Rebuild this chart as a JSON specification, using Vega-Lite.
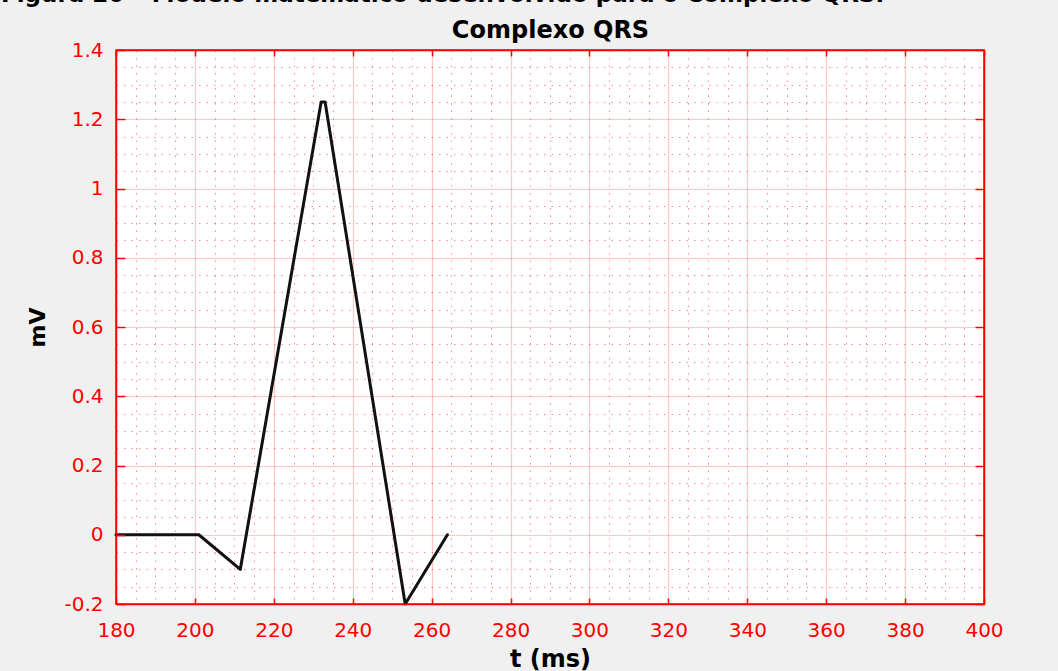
{
  "$schema": "https://vega.github.io/schema/vega-lite/v6.json",
  "width": 868,
  "height": 554,
  "autosize": {"type": "none"},
  "padding": {"left": 116, "top": 50, "right": 74, "bottom": 67},
  "background": "#f0f0f0",
  "title": {
    "text": "Figura 20 – Modelo matemático desenvolvido para o Complexo QRS.",
    "anchor": "start",
    "frame": "group",
    "dx": -115,
    "offset": -7,
    "baseline": "alphabetic",
    "font": "DejaVu Sans",
    "fontSize": 23,
    "fontWeight": "bold",
    "color": "#000000"
  },
  "data": {
    "values": [
      {"t": 180, "v": 0},
      {"t": 201, "v": 0},
      {"t": 211.5, "v": -0.1},
      {"t": 232, "v": 1.25},
      {"t": 233, "v": 1.25},
      {"t": 253.3, "v": -0.2},
      {"t": 264, "v": 0}
    ]
  },
  "layer": [
    {
      "mark": {"type": "line", "opacity": 0},
      "encoding": {
        "x": {
          "field": "t", "type": "quantitative",
          "scale": {"domain": [180, 400], "nice": false, "zero": false},
          "axis": {
            "orient": "bottom", "zindex": 0,
            "values": [185, 190, 195, 205, 210, 215, 225, 230, 235, 245, 250, 255, 265, 270, 275, 285, 290, 295, 305, 310, 315, 325, 330, 335, 345, 350, 355, 365, 370, 375, 385, 390, 395],
            "grid": true, "gridColor": "#ff0000", "gridOpacity": 0.45, "gridWidth": 1, "gridDash": [1.5, 6],
            "labels": false, "ticks": false, "domain": false, "title": null
          }
        },
        "y": {
          "field": "v", "type": "quantitative",
          "scale": {"domain": [-0.2, 1.4], "nice": false, "zero": false},
          "axis": {
            "orient": "left", "zindex": 0,
            "values": [-0.15, -0.1, -0.05, 0.05, 0.1, 0.15, 0.25, 0.3, 0.35, 0.45, 0.5, 0.55, 0.65, 0.7, 0.75, 0.85, 0.9, 0.95, 1.05, 1.1, 1.15, 1.25, 1.3, 1.35],
            "grid": true, "gridColor": "#ff0000", "gridOpacity": 0.45, "gridWidth": 1, "gridDash": [1.5, 6],
            "labels": false, "ticks": false, "domain": false, "title": null
          }
        }
      }
    },
    {
      "mark": {"type": "line", "opacity": 0},
      "encoding": {
        "x": {
          "field": "t", "type": "quantitative",
          "axis": {
            "orient": "bottom", "zindex": 0,
            "values": [200, 220, 240, 260, 280, 300, 320, 340, 360, 380],
            "grid": true, "gridColor": "#ff0000", "gridOpacity": 0.22, "gridWidth": 1.2,
            "labels": false, "ticks": false, "domain": false, "title": null
          }
        },
        "y": {
          "field": "v", "type": "quantitative",
          "axis": {
            "orient": "left", "zindex": 0,
            "values": [0, 0.2, 0.4, 0.6, 0.8, 1, 1.2],
            "grid": true, "gridColor": "#ff0000", "gridOpacity": 0.22, "gridWidth": 1.2,
            "labels": false, "ticks": false, "domain": false, "title": null
          }
        }
      }
    },
    {
      "mark": {"type": "line", "opacity": 0},
      "encoding": {
        "x": {
          "field": "t", "type": "quantitative",
          "axis": {
            "orient": "top", "zindex": 1,
            "values": [180, 200, 220, 240, 260, 280, 300, 320, 340, 360, 380, 400],
            "grid": false, "labels": false,
            "ticks": true, "tickSize": -6, "tickWidth": 1.5, "tickColor": "#ff0000",
            "domain": true, "domainColor": "#ff0000", "domainWidth": 1.5,
            "title": "Complexo QRS", "titleFont": "DejaVu Sans", "titleFontSize": 24,
            "titleFontWeight": "bold", "titleColor": "#000000", "titlePadding": 7
          }
        },
        "y": {
          "field": "v", "type": "quantitative",
          "axis": {
            "orient": "right", "zindex": 1,
            "values": [-0.2, 0, 0.2, 0.4, 0.6, 0.8, 1, 1.2, 1.4],
            "grid": false, "labels": false,
            "ticks": true, "tickSize": -9, "tickWidth": 1.5, "tickColor": "#ff0000",
            "domain": true, "domainColor": "#ff0000", "domainWidth": 1.5,
            "title": null
          }
        }
      }
    },
    {
      "mark": {"type": "line", "color": "#111111", "strokeWidth": 3, "strokeJoin": "round", "strokeCap": "round"},
      "encoding": {
        "x": {
          "field": "t", "type": "quantitative",
          "axis": {
            "orient": "bottom", "zindex": 1,
            "values": [180, 200, 220, 240, 260, 280, 300, 320, 340, 360, 380, 400],
            "grid": false,
            "ticks": true, "tickSize": -6, "tickWidth": 1.5, "tickColor": "#ff0000",
            "domain": true, "domainColor": "#ff0000", "domainWidth": 1.5,
            "labelFont": "DejaVu Sans", "labelFontSize": 20, "labelColor": "#ff0000",
            "labelPadding": 22, "labelFlush": false, "labelOverlap": false,
            "labelExpr": "'' + datum.value",
            "title": "t (ms)", "titleFont": "DejaVu Sans", "titleFontSize": 24,
            "titleFontWeight": "bold", "titleColor": "#000000", "titlePadding": 7
          }
        },
        "y": {
          "field": "v", "type": "quantitative",
          "axis": {
            "orient": "left", "zindex": 1,
            "values": [-0.2, 0, 0.2, 0.4, 0.6, 0.8, 1, 1.2, 1.4],
            "grid": false,
            "ticks": true, "tickSize": -9, "tickWidth": 1.5, "tickColor": "#ff0000",
            "domain": true, "domainColor": "#ff0000", "domainWidth": 1.5,
            "labelFont": "DejaVu Sans", "labelFontSize": 20, "labelColor": "#ff0000",
            "labelPadding": 22, "labelFlush": false, "labelOverlap": false,
            "labelExpr": "'' + datum.value",
            "title": "mV", "titleFont": "DejaVu Sans", "titleFontSize": 22,
            "titleFontWeight": "bold", "titleColor": "#000000", "titlePadding": 14
          }
        }
      }
    }
  ],
  "resolve": {"axis": {"x": "independent", "y": "independent"}},
  "config": {
    "view": {"fill": "#ffffff", "stroke": "#ff0000", "strokeWidth": 1.5}
  }
}
